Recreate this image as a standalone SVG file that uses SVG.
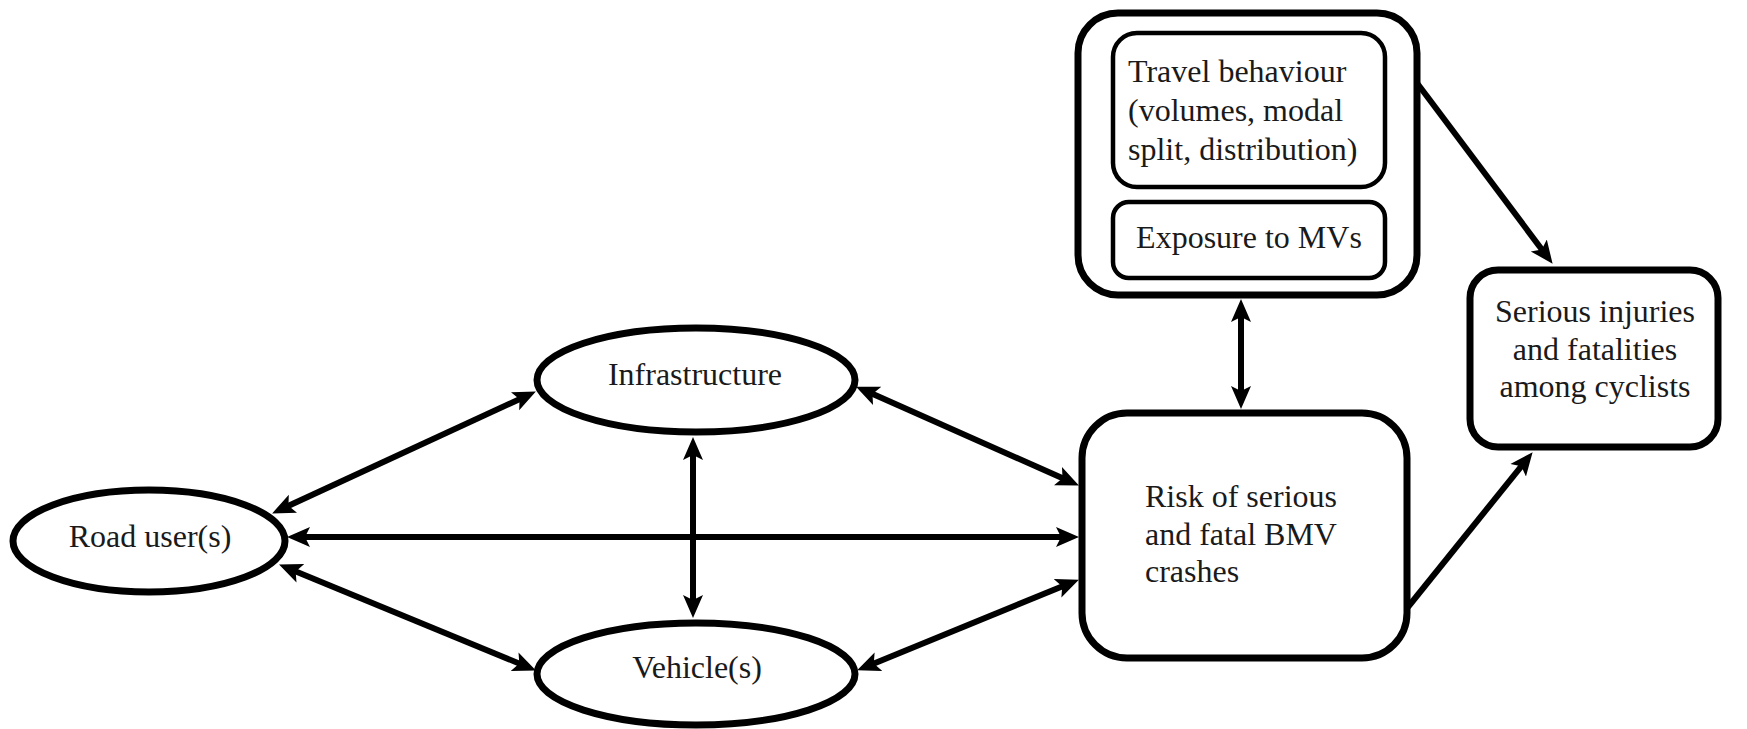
<svg xmlns="http://www.w3.org/2000/svg" width="1747" height="729" viewBox="0 0 1747 729">
<defs>
<marker id="ah" markerUnits="userSpaceOnUse" markerWidth="24" markerHeight="22" refX="12" refY="10" orient="auto-start-reverse" viewBox="0 0 24 20">
<path d="M0,0 L23,10 L0,20 L5,10 z" fill="#000"/>
</marker>
</defs>
<style>
text{font-family:"Liberation Serif","Times New Roman",serif;font-size:32px;fill:#1a1a1a}
.c{text-anchor:middle}
.node{fill:#fff;stroke:#000;stroke-width:7}
.inner{fill:#fff;stroke:#000;stroke-width:4.5}
.edge{fill:none;stroke:#000;stroke-width:6}
</style>
<rect width="1747" height="729" fill="#fff"/>
<g id="connectors">
<line class="edge" x1="282.1" y1="508.8" x2="525.9" y2="396.2" marker-start="url(#ah)" marker-end="url(#ah)"/>
<line class="edge" x1="298" y1="537" x2="1068" y2="537" marker-start="url(#ah)" marker-end="url(#ah)"/>
<line class="edge" x1="289.2" y1="568.8" x2="525.8" y2="666.2" marker-start="url(#ah)" marker-end="url(#ah)"/>
<line class="edge" x1="693" y1="448" x2="693" y2="607" marker-start="url(#ah)" marker-end="url(#ah)"/>
<line class="edge" x1="866.1" y1="391.1" x2="1068.9" y2="481" marker-start="url(#ah)" marker-end="url(#ah)"/>
<line class="edge" x1="867.3" y1="666.2" x2="1068.7" y2="583.8" marker-start="url(#ah)" marker-end="url(#ah)"/>
<line class="edge" x1="1241" y1="310" x2="1241" y2="398" marker-start="url(#ah)" marker-end="url(#ah)"/>
<line class="edge" x1="1417" y1="83" x2="1546" y2="255" marker-end="url(#ah)"/>
<line class="edge" x1="1408" y1="607" x2="1525.7" y2="460.8" marker-end="url(#ah)"/>
</g>
<g id="road-users">
<ellipse class="node" cx="149" cy="541" rx="136" ry="51"/>
<text class="c" x="150" y="547">Road user(s)</text>
</g>
<g id="infrastructure">
<ellipse class="node" cx="696" cy="380" rx="159" ry="52"/>
<text class="c" x="695" y="385">Infrastructure</text>
</g>
<g id="vehicles">
<ellipse class="node" cx="696" cy="674" rx="159" ry="51"/>
<text class="c" x="697" y="678">Vehicle(s)</text>
</g>
<g id="exposure-group">
<rect class="node" x="1078" y="13" width="339" height="282" rx="40"/>
<g id="travel-behaviour">
<rect class="inner" x="1113" y="33" width="272" height="154" rx="24"/>
<text x="1128" y="82">Travel behaviour</text>
<text x="1128" y="121">(volumes, modal</text>
<text x="1128" y="160">split, distribution)</text>
</g>
<g id="exposure">
<rect class="inner" x="1113" y="202" width="272" height="76" rx="16"/>
<text class="c" x="1249" y="248">Exposure to MVs</text>
</g>
</g>
<g id="risk">
<rect class="node" x="1082" y="413" width="325" height="245" rx="45"/>
<text x="1145" y="507">Risk of serious</text>
<text x="1145" y="545">and fatal BMV</text>
<text x="1145" y="582">crashes</text>
</g>
<g id="outcome">
<rect class="node" x="1470" y="270" width="248" height="177" rx="28"/>
<text class="c" x="1595" y="322">Serious injuries</text>
<text class="c" x="1595" y="360">and fatalities</text>
<text class="c" x="1595" y="397">among cyclists</text>
</g>
</svg>
